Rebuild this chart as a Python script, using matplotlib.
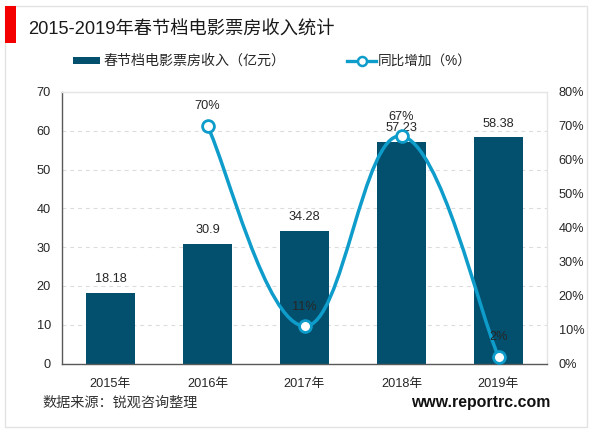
import matplotlib
matplotlib.use("Agg")
import matplotlib.pyplot as plt
from matplotlib.patches import Rectangle, PathPatch
from matplotlib.path import Path
from matplotlib.lines import Line2D

FONTS = ['Liberation Sans', 'Noto Sans CJK SC', 'DejaVu Sans']
plt.rcParams['font.family'] = FONTS

years = ['2015年', '2016年', '2017年', '2018年', '2019年']
revenue = [18.18, 30.9, 34.28, 57.23, 58.38]
revenue_labels = ['18.18', '30.9', '34.28', '57.23', '58.38']
growth_years = [1, 2, 3, 4]
growth = [70, 11, 67, 2]
left_ticks = [0, 10, 20, 30, 40, 50, 60, 70]
right_ticks = [0, 10, 20, 30, 40, 50, 60, 70, 80]
title = '2015-2019年春节档电影票房收入统计'
bar_name = '春节档电影票房收入（亿元）'
line_name = '同比增加（%）'
source = '数据来源：锐观咨询整理'
site = 'www.reportrc.com'

W, H = 600, 433
BAR = '#02506E'
LINE = '#0E9CCB'
TXT = '#262626'
PX = 72 / 100  # points per pixel
TENSION = 0.2

fig = plt.figure(figsize=(W / 100, H / 100), dpi=100, facecolor='white')
ax = fig.add_axes([62 / W, 1 - 363.5 / H, 485 / W, 271.5 / H])
ax2 = ax.twinx()

fig.add_artist(Rectangle((5 / W, 1 - 427 / H), 582 / W, 421 / H, transform=fig.transFigure,
                         fill=False, ec='#E3E3E3', lw=1))
fig.add_artist(Rectangle((5 / W, 1 - 43 / H), 10.5 / W, 37 / H, transform=fig.transFigure,
                         fc='#F50000', ec='none'))

ax.set_xlim(-0.5, 4.5)
ax.set_ylim(0, 70)
ax2.set_ylim(0, 80)
ax.set_axisbelow(True)
ax.yaxis.grid(True, color='#DCDCDC', ls=(0, (3.5, 3.5)), lw=0.8)
ax.set_yticks(left_ticks)
ax.set_xticks(range(len(years)))
ax.set_xticklabels(years)
ax2.set_yticks(right_ticks)
ax2.set_yticklabels([f'{v}%' for v in right_ticks])
for a in (ax, ax2):
    a.tick_params(length=0, labelsize=9.2, labelcolor=TXT)
    for s in ('top', 'right', 'left', 'bottom'):
        a.spines[s].set_visible(False)
ax.tick_params(axis='x', pad=10.5)
ax.tick_params(axis='y', pad=8)
ax2.tick_params(axis='y', pad=8.5)
for s, c in (('left', '#595959'), ('bottom', '#595959'), ('top', '#E5E5E5'), ('right', '#E5E5E5')):
    ax.spines[s].set_visible(True)
    ax.spines[s].set_color(c)
    ax.spines[s].set_linewidth(1)

ax.bar(range(len(years)), revenue, width=0.5, color=BAR, zorder=2)
for i, (v, lab) in enumerate(zip(revenue, revenue_labels)):
    ax.annotate(lab, (i, v), xytext=(0, 13.5 * PX), textcoords='offset points', ha='center',
                va='center', fontsize=9.2, color=TXT, zorder=6, annotation_clip=False)

# Smooth curve through the data points, as the chart's smoothed line style
verts = [(growth_years[0], growth[0])]
codes = [Path.MOVETO]
pts = list(zip(growth_years, growth))
for i in range(len(pts) - 1):
    p0 = pts[max(i - 1, 0)]
    p1 = pts[i]
    p2 = pts[i + 1]
    p3 = pts[min(i + 2, len(pts) - 1)]
    c1 = (p1[0] + (p2[0] - p0[0]) * TENSION, p1[1] + (p2[1] - p0[1]) * TENSION)
    c2 = (p2[0] - (p3[0] - p1[0]) * TENSION, p2[1] - (p3[1] - p1[1]) * TENSION)
    verts += [c1, c2, p2]
    codes += [Path.CURVE4] * 3
ax2.add_patch(PathPatch(Path(verts, codes), fill=False, ec=LINE, lw=2.5, zorder=4))
ax2.plot(growth_years, growth, ls='none', marker='o', ms=8.5, mfc='white', mec=LINE,
         mew=2, zorder=5)
for x, v in zip(growth_years, growth):
    ax2.annotate(f'{v}%', (x, v), xytext=(0, 19.5 * PX), textcoords='offset points', ha='center',
                 va='center', fontsize=9.2, color=TXT, zorder=6)

fig.text(28 / W, 1 - 30 / H, title, fontsize=13.15, color='#1A1A1A', va='center', ha='left')
fig.text(42 / W, 1 - 403 / H, source, fontsize=10.2, color='#333333', va='center', ha='left')
fig.text(411 / W, 1 - 403 / H, site, fontsize=11.4, fontweight='bold', color='#111111',
         va='center', ha='left')

fig.add_artist(Rectangle((73 / W, 1 - 64 / H), 27 / W, 7 / H, transform=fig.transFigure,
                         fc=BAR, ec='none'))
fig.text(103 / W, 1 - 61 / H, bar_name, fontsize=10.1, color=TXT, va='center', ha='left')
fig.add_artist(Line2D([347 / W, 376 / W], [1 - 61 / H] * 2, transform=fig.transFigure,
                      color=LINE, lw=2.4))
fig.add_artist(Line2D([361.5 / W], [1 - 61 / H], transform=fig.transFigure, ls='none', marker='o',
                      ms=6.5, mfc='white', mec=LINE, mew=1.8))
fig.text(378 / W, 1 - 61 / H, line_name, fontsize=9.8, color=TXT, va='center', ha='left')

fig.savefig('out.png', dpi=100)
